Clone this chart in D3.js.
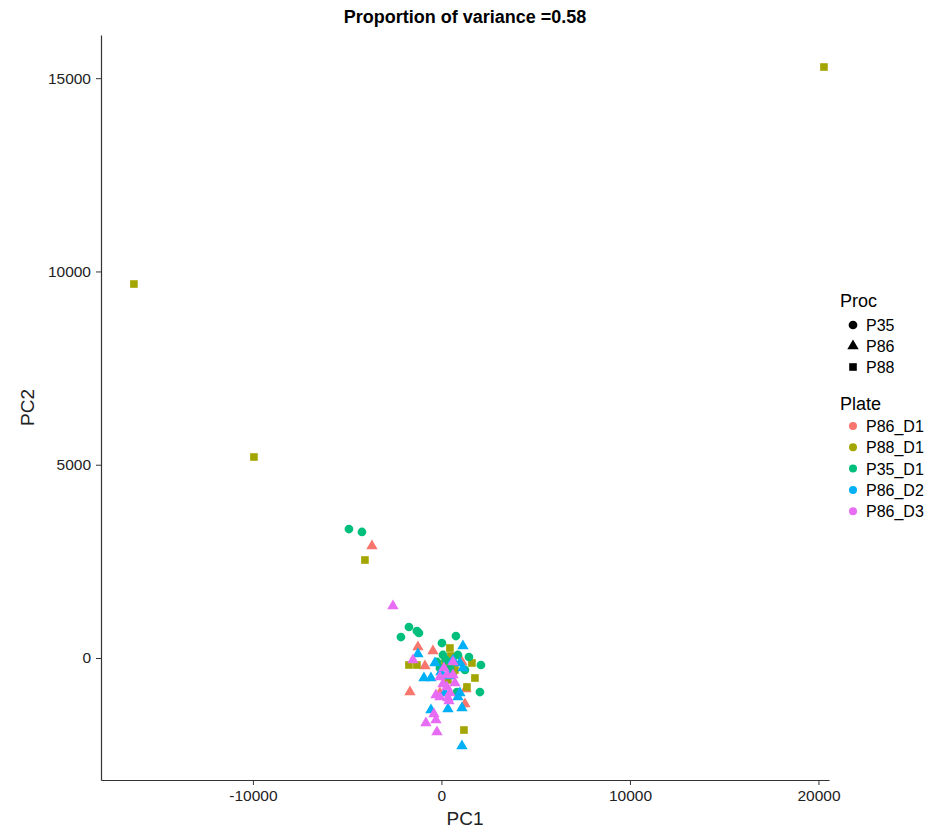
<!DOCTYPE html>
<html>
<head>
<meta charset="utf-8">
<script src="https://cdn.jsdelivr.net/npm/d3@7"></script>
<style>
body{margin:0;background:#fff;}
text{font-family:"Liberation Sans",Arial,sans-serif;}
</style>
</head>
<body>
<div id="chart"></div>
<script>

// plate levels and colours (ggplot hue palette)
const plates = ["P86_D1","P88_D1","P35_D1","P86_D2","P86_D3"]
const plateColors = ["#F8766D","#A3A500","#00BF7D","#00B0F6","#E76BF3"]
const procs = ["P35","P86","P88"]

const xTicks = [-10000,0,10000,20000]
const yTicks = [0,5000,10000,15000]

// [PC1, PC2]
const p35_d1 = [[-4907,3337],[-4217,3260],[-2149,543],[-1724,802],[-1300,698],[-1194,647],[27,388],[769,569],
[80,78],[875,78],[1459,26],[2095,-181],[2042,-880],[-239,-103],[1247,-310],[822,-880],[451,-259],[239,-52],[-80,-259]]

const p88_d1 = [[20292,15289],[-16313,9675],[-9947,5200],[-4058,2535],[-1724,-181],[-1300,-181],[451,259],[504,52],
[186,-129],[610,-129],[1618,-129],[1777,-517],[1353,-750],[1194,-1863],[716,-310],[345,-569]]

const p86_d1 = [[-3687,2897],[-1247,285],[-451,181],[-875,-207],[-1671,-880],[-80,-905],[1247,-1190],[1088,-103],
[1300,-802],[557,-362]]

const p86_d2 = [[-1247,103],[1141,310],[-345,-129],[610,-52],[981,-129],[1141,-259],[-928,-517],[-557,-517],
[186,-905],[981,-905],[875,-1009],[-557,-1345],[345,-1319],[1088,-1294],[1088,-2277],[-27,-362],[398,-466]]

const p86_d3 = [[-2573,1345],[-1512,-52],[610,-103],[-80,-492],[292,-440],[610,-440],[292,-750],[-292,-957],
[-80,-1009],[451,-905],[398,-1112],[-398,-1449],[-822,-1682],[-292,-1604],[-239,-1914],[133,-259],[716,-647],
[80,-673],[345,-1035]]

const groups = [
{plate:"P86_D1",proc:"P86",pts:p86_d1},
{plate:"P88_D1",proc:"P88",pts:p88_d1},
{plate:"P35_D1",proc:"P35",pts:p35_d1},
{plate:"P86_D2",proc:"P86",pts:p86_d2},
{plate:"P86_D3",proc:"P86",pts:p86_d3}
]

const data = []
groups.forEach(g=>g.pts.forEach(p=>data.push({x:p[0],y:p[1],plate:g.plate,proc:g.proc})))

const width = 937
const height = 831
const margin = {top:35,right:108,bottom:51,left:101}

const svg = d3.select("#chart")
.append("svg")
.attr("width",width)
.attr("height",height)

const x = d3.scaleLinear().domain([-18060,20560]).range([margin.left,width-margin.right])
const y = d3.scaleLinear().domain([-3156,16117]).range([height-margin.bottom,margin.top])

const color = d3.scaleOrdinal().domain(plates).range(plateColors)
const shape = d3.scaleOrdinal().domain(procs).range([d3.symbolCircle,d3.symbolTriangle,d3.symbolSquare])
const sizes = {P35:60,P86:56,P88:58}

// axes
const xAxis = svg.append("g")
.attr("transform",`translate(0,${height-margin.bottom})`)
.call(d3.axisBottom(x).tickValues(xTicks).tickSize(5).tickSizeOuter(0).tickPadding(5).tickFormat(d=>String(d)))

const yAxis = svg.append("g")
.attr("transform",`translate(${margin.left},0)`)
.call(d3.axisLeft(y).tickValues(yTicks).tickSize(5).tickSizeOuter(0).tickPadding(5).tickFormat(d=>String(d)))

;[xAxis,yAxis].forEach(a=>{
a.select(".domain").attr("stroke","#333").attr("stroke-width",1.2)
a.selectAll(".tick line").attr("stroke","#333")
a.selectAll(".tick text").attr("fill","#222").attr("font-size","15.5px")
})

// points
svg.append("g")
.selectAll("path")
.data(data)
.enter()
.append("path")
.attr("transform",d=>`translate(${x(d.x)},${y(d.y)})`)
.attr("d",d=>d3.symbol().type(shape(d.proc)).size(sizes[d.proc])())
.attr("fill",d=>color(d.plate))

// title and axis labels
svg.append("text")
.attr("x",(margin.left+width-margin.right)/2)
.attr("y",23)
.attr("text-anchor","middle")
.attr("font-size","18px")
.attr("font-weight","bold")
.text("Proportion of variance =0.58")

svg.append("text")
.attr("x",(margin.left+width-margin.right)/2)
.attr("y",825)
.attr("text-anchor","middle")
.attr("font-size","19px")
.attr("fill","#222")
.text("PC1")

svg.append("text")
.attr("transform",`translate(34,${(margin.top+height-margin.bottom)/2}) rotate(-90)`)
.attr("text-anchor","middle")
.attr("font-size","19px")
.attr("fill","#222")
.text("PC2")

// legends
const leg = svg.append("g").attr("transform","translate(840,0)")

leg.append("text").attr("x",0).attr("y",307).attr("font-size","18px").text("Proc")

leg.selectAll(".proc")
.data(procs)
.enter()
.append("path")
.attr("transform",(d,i)=>`translate(13,${325+i*21})`)
.attr("d",d=>d3.symbol().type(shape(d)).size(sizes[d])())
.attr("fill","#000")

leg.selectAll(".procLab")
.data(procs)
.enter()
.append("text")
.attr("x",26)
.attr("y",(d,i)=>331+i*21)
.attr("font-size","16px")
.text(d=>d)

leg.append("text").attr("x",0).attr("y",410).attr("font-size","18px").text("Plate")

leg.selectAll(".plate")
.data(plates)
.enter()
.append("circle")
.attr("cx",13)
.attr("cy",(d,i)=>426+i*21.3)
.attr("r",4)
.attr("fill",d=>color(d))

leg.selectAll(".plateLab")
.data(plates)
.enter()
.append("text")
.attr("x",26)
.attr("y",(d,i)=>432+i*21.3)
.attr("font-size","16px")
.text(d=>d)

</script>
</body>
</html>
